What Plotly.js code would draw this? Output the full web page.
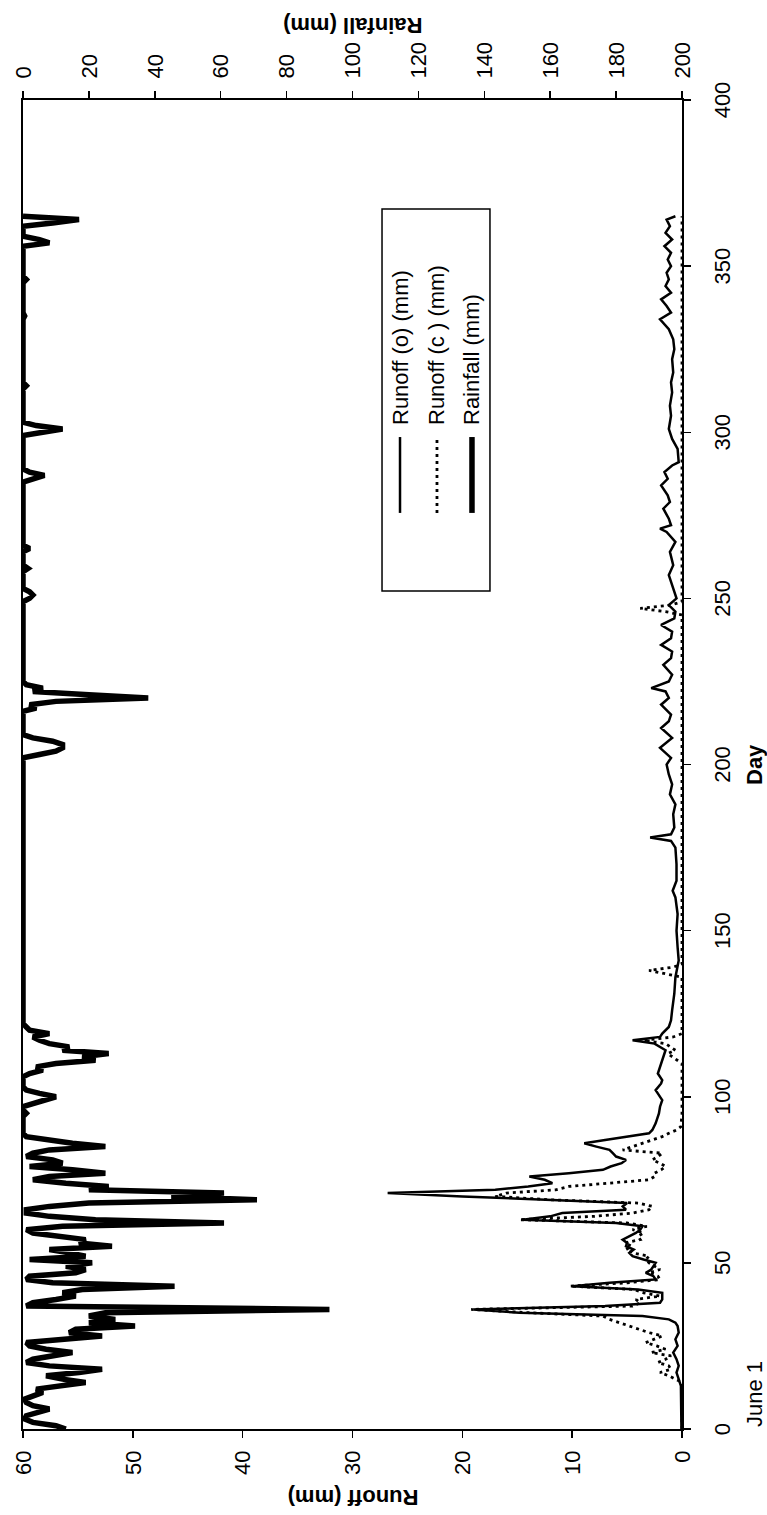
<!DOCTYPE html>
<html>
<head>
<meta charset="utf-8">
<script src="https://cdn.plot.ly/plotly-3.0.1.min.js"></script>
<style>
html, body { margin: 0; padding: 0; width: 767px; height: 1515px; overflow: hidden; background: #fff; }
/* the chart is drawn in landscape and turned a quarter turn, like the scanned page */
#plot { position: absolute; left: 0; top: 0; width: 1515px; height: 767px;
        transform-origin: 0 0; transform: translateY(1515px) rotate(-90deg); }
</style>
</head>
<body>
<div id="plot"></div>
<script>
// rainfall, mm per day (June 1 = day 0)
const rainDay = [0,1,2,3,4,5,6,7,8,9,10,11,12,13,14,15,16,17,18,19,20,21,22,23,24,25,26,27,28,29,
  30,31,32,33,34,35,36,37,38,39,40,41,42,43,44,45,46,47,48,49,50,51,52,53,54,55,56,57,58,59,
  60,61,62,63,64,65,66,67,68,69,70,71,72,73,74,75,76,77,78,79,80,81,82,83,84,85,86,87,88,89,
  90,91,92,93,94,95,96,97,98,99,100,101,102,103,104,105,106,107,108,109,110,111,112,113,114,115,116,117,118,119,
  120,121,122,150,175,200,202,203,204,205,206,207,208,209,216,217,218,219,220,221,222,223,224,225,
  249,250,251,252,253,258,259,260,264,265,266,285,286,287,288,289,299,300,301,302,303,313,314,315,
  334,335,336,345,346,347,356,357,358,359,362,363,364,365]
const rainMm = [13,10,3,0.5,1,4,8,3,1,0.5,3,6,4,12,19,12,7,17,24,8,1,3,9,15,7,2,1,13,24,14,
  16,34,20,28,20,25,93,1,3,10,16,12,18,46,9,1,2,16,19,13,21,2,19,14,8,27,17,19,11,3,
  1,12,61,22,8,1,1,8,20,71,45,61,20,26,13,3,8,25,15,2,12,9,1,3,8,25,15,8,1,0,
  0,0,0,0,0,1,0,0,3,7,10,5,1,0,0,0,0,2,6,4,10,22,18,26,12,14,8,5,3,8,
  2,1,0,0,0,0,0,5,10,12,12,9,3,0,0,4,2,10,38,20,3,6,1,0,
  0,2,3,2,0,0,1.5,0,0,2,0,0,3,6.5,2,0,0,5,12,4,0,0,1,0,
  0,0.5,0,0,1,0,0,8,5,0,0,9,17,0]

// observed runoff (o), mm
const obsDay = [0,5,10,13,15,17,19,21,23,25,27,29,31,32,33,34,35,36,37,38,39,40,41,42,43,44,45,46,47,48,49,
  50,51,52,53,54,55,56,57,58,59,60,61,62,63,64,65,66,67,68,69,70,71,72,73,74,75,76,77,78,79,
  80,81,82,83,84,85,86,87,88,89,90,92,95,97,99,100,102,104,105,107,108,110,111,113,114,116,117,118,119,
  121,123,126,131,136,141,145,150,155,160,162,165,170,175,177,178,179,181,185,188,191,194,197,200,202,205,208,
  211,213,215,218,220,222,223,225,227,230,232,234,236,238,240,242,244,246,248,250,254,257,260,264,267,270,271,
  272,274,277,279,281,284,286,288,290,291,295,298,301,305,308,312,315,318,322,325,328,331,334,336,338,340,
  342,344,346,348,350,352,354,356,358,360,362,364,365]
const obsMm = [0.05,0.05,0.1,0.1,0.3,0.5,0.3,0.5,0.8,0.4,0.6,0.3,0.4,0.6,1.2,3.6,14.8,19,7,2,1.8,1.8,1.8,4,10,6.6,2.4,2.6,3.3,2.8,2.6,
  2.4,3.5,4.5,4.8,4.4,5.1,5,5.4,4.8,4.2,3.8,3.6,6,14.5,12,10.9,5.1,5.4,5,13.3,20,26.8,17,14,11.8,12.5,13.9,10.3,7.2,6.5,
  5.5,5.1,6,6.3,6.6,7.8,8.9,7,5.1,3,2.7,2.4,2.1,2,1.8,2,2.4,1.9,1.8,2.2,2.1,1.9,1.8,1.6,1.5,2.5,4.5,2,1.8,
  1.2,1,0.9,0.7,0.6,0.3,0.4,0.5,0.4,0.6,0.85,0.5,0.5,0.6,1,2.9,1,0.7,0.8,0.6,1.1,0.9,1.2,1.4,1,2,0.9,
  1.9,1.2,1,1.9,1.2,1.5,2.8,1.2,0.9,1.7,1,0.9,1.9,1,0.9,1.9,0.7,0.6,1.2,0.5,0.9,1.2,0.8,1.1,0.6,1.4,2,
  1,1.2,1.7,1.1,1.3,1.9,1.3,1.6,0.9,0.3,0.4,0.9,1.2,1,1.1,0.9,1,0.8,0.9,0.7,0.8,1.2,2,1,1.4,1.9,
  1,1.5,1.2,1.4,1,1.3,1,1.6,0.9,1.5,1.1,1.4,0.6]

// computed runoff (c), mm
const calDay = [0,14,16,17,18,19,20,21,22,23,24,25,26,27,28,29,30,31,32,33,34,35,36,37,38,39,40,41,42,43,44,
  45,46,47,48,49,50,51,52,53,54,55,56,57,58,59,60,61,62,63,64,65,66,67,68,69,70,71,72,73,74,
  75,76,77,78,79,80,81,82,83,84,85,86,87,88,89,90,91,95,110,112,113,114,116,117,118,119,136,137,138,139,140,
  245,246,247,248,249,365]
const calMm = [0,0,1.2,2,1,1.2,2.2,1.5,1,2.8,1.5,2.3,3.3,2.5,1.8,3,3.9,5,5.7,6.6,7.2,14,19.2,4.5,3.8,4.2,2,3.5,4.4,10.2,5,
  2,2.2,3,2,2.5,3,3.3,3,4.5,5.1,4.6,5.2,3.8,4,3.5,4.5,3.2,5,14.8,8,4.5,3,2.7,4,12,17,16,11.5,10.3,7,
  3,2.5,2.5,1.9,1.5,2,2.7,2.2,1.8,5.4,4.5,3.5,2.6,1.8,1.2,0.5,0.1,0,0,0.8,1.3,0.6,1.5,3.5,0.8,0,0,1.5,3,0.8,0,
  0,1.5,3.8,1,0,0]

const dayTicks = [0,50,100,150,200,250,300,350,400]
const runoffTicks = [0,10,20,30,40,50,60]
const rainTicks = [0,20,40,60,80,100,120,140,160,180,200]

const fontFam = 'Arial, "Liberation Sans", sans-serif'

const seriesNames = ['Runoff (o) (mm)', 'Runoff (c ) (mm)', 'Rainfall (mm)']
const seriesLines = [
  { color: '#000', width: 2.5 },
  { color: '#000', width: 2.8, dash: '3px,4px' },
  { color: '#000', width: 5.5 }
]

const traces = [
  { x: obsDay, y: obsMm, name: seriesNames[0], type: 'scatter', mode: 'lines', line: seriesLines[0] },
  { x: calDay, y: calMm, name: seriesNames[1], type: 'scatter', mode: 'lines', line: seriesLines[1] },
  { x: rainDay, y: rainMm, name: seriesNames[2], type: 'scatter', mode: 'lines', yaxis: 'y2', line: seriesLines[2] }
]

const axisBase = {
  showgrid: false, zeroline: false, showline: true, linecolor: '#000', linewidth: 2,
  ticks: 'outside', ticklen: 7, tickwidth: 1.5, tickcolor: '#000',
  tickfont: { family: fontFam, size: 22, color: '#000' }
}

function label(text, x, y, opts) {
  return Object.assign({ text: text, xref: 'paper', yref: 'paper', x: x, y: y, showarrow: false,
    xanchor: 'center', yanchor: 'middle', font: { family: fontFam, size: 22, color: '#000' } }, opts || {})
}

// legend drawn by hand: a wide framed box with long key lines, as in the scan
const legBox = { x0: 0.6305, x1: 0.918, y0: 0.2914, y1: 0.4552 }
const legRows = [0.4279, 0.3718, 0.3187]
const legKey = { x0: 0.6893, x1: 0.7464, textX: 0.7539 }

const shapes = [{ type: 'rect', xref: 'paper', yref: 'paper', x0: legBox.x0, x1: legBox.x1, y0: legBox.y0, y1: legBox.y1,
  line: { color: '#000', width: 1.5 }, fillcolor: '#fff', layer: 'above' }]
const annotations = [
  label('<b>Runoff (mm)</b>', -0.0512, 0.5, { textangle: -90 }),
  label('<b>Rainfall (mm)</b>', 1.0564, 0.5, { textangle: -90 }),
  label('<b>Day</b>', 0.5, -0.1107),
  label('June 1', 0, -0.1107, { xanchor: 'left' })
]
seriesNames.forEach(function (name, i) {
  shapes.push({ type: 'line', xref: 'paper', yref: 'paper', x0: legKey.x0, x1: legKey.x1,
    y0: legRows[i], y1: legRows[i], line: seriesLines[i], layer: 'above' })
  annotations.push(label(name, legKey.textX, legRows[i], { xanchor: 'left' }))
})

const layout = {
  width: 1515, height: 767,
  margin: { l: 86, r: 100, t: 23, b: 85 },
  paper_bgcolor: '#fff', plot_bgcolor: '#fff',
  showlegend: false,
  xaxis: Object.assign({}, axisBase, { range: [0, 400], tickvals: dayTicks, mirror: true, ticklabelstandoff: 13 }),
  yaxis: Object.assign({}, axisBase, { range: [0, 60], tickvals: runoffTicks, ticklabelstandoff: 8 }),
  yaxis2: Object.assign({}, axisBase, { range: [200, 0], tickvals: rainTicks, overlaying: 'y', side: 'right',
    ticklabelstandoff: 8 }),
  shapes: shapes,
  annotations: annotations
}

Plotly.newPlot('plot', traces, layout, { staticPlot: true })
</script>
</body>
</html>
